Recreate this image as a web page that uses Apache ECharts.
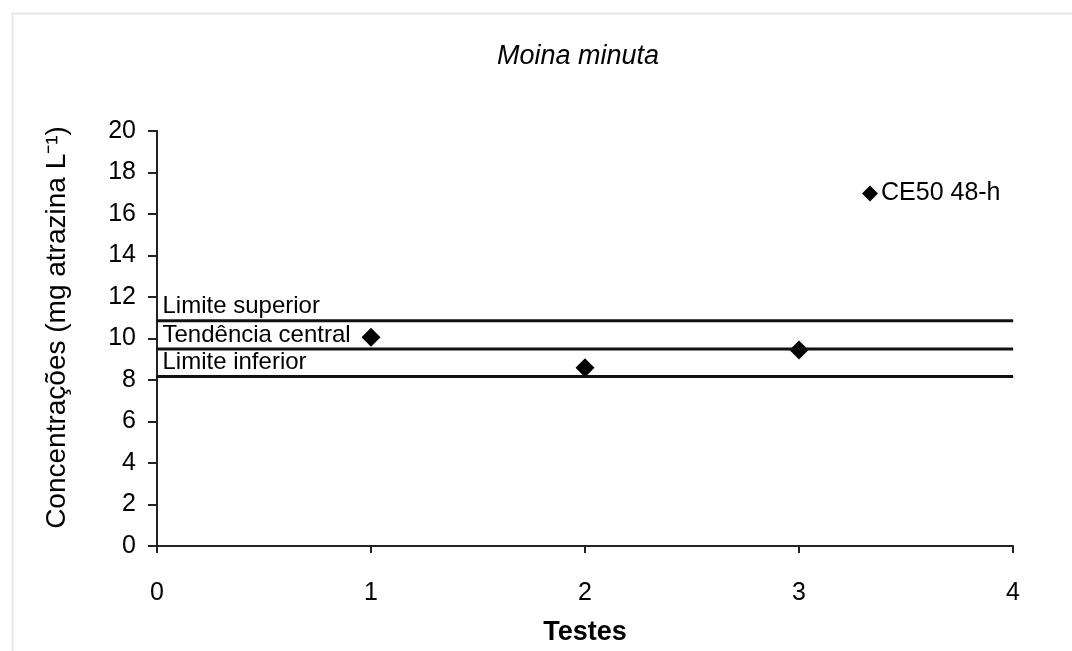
<!DOCTYPE html>
<html>
<head>
<meta charset="utf-8">
<script src="https://cdn.jsdelivr.net/npm/echarts@6/dist/echarts.min.js"></script>
<style>
html,body{margin:0;padding:0;background:#fff;}
#c{width:1072px;height:651px;}
</style>
</head>
<body>
<div id="c"></div>
<script>
// Data
var testes = [1, 2, 3];
var ce50 = [10.06, 8.59, 9.44];
var lineNames = ['Limite superior', 'Tendência central', 'Limite inferior'];
var lineValues = [10.86, 9.50, 8.17];
var lineX = [0, 4];
var yTicks = [0, 20, 2];
var xTicks = [0, 4, 1];

var FONT = '"Liberation Sans", Arial, sans-serif';
var chart = echarts.init(document.getElementById('c'));

var lineSeries = lineNames.map(function (nm, i) {
  return {
    name: nm,
    type: 'line',
    symbol: 'circle',
    symbolSize: 1,
    silent: true,
    lineStyle: { color: '#111', width: 3 },
    itemStyle: { color: '#111' },
    data: lineX.map(function (x, j) {
      var d = { value: [x, lineValues[i]] };
      if (j === 0) {
        d.label = {
          show: true, position: 'right', distance: 5, offset: [0, -14],
          formatter: nm, color: '#000', fontSize: 24, fontFamily: FONT
        };
      }
      return d;
    })
  };
});

chart.setOption({
  animation: false,
  backgroundColor: '#fff',
  title: {
    text: 'Moina minuta',
    left: 573, top: 38, textAlign: 'center',
    textStyle: { fontFamily: FONT, fontStyle: 'italic', fontWeight: 'normal', fontSize: 27, color: '#000' }
  },
  graphic: [{
    type: 'rect', left: 10, top: 11, shape: { width: 1100, height: 700 },
    style: { fill: 'none', stroke: '#e8e8e8', lineWidth: 2 }, silent: true
  }],
  legend: {
    data: [{ name: 'CE50 48-h', icon: 'diamond', itemStyle: { color: '#000', opacity: 1 } }],
    left: 857, top: 176, itemWidth: 16, itemHeight: 16, itemGap: 4,
    textStyle: { fontFamily: FONT, fontSize: 25, color: '#000', padding: [0, 0, 0, -2] }
  },
  grid: { left: 157, right: 59, top: 131, bottom: 96, containLabel: false },
  xAxis: {
    type: 'value', min: xTicks[0], max: xTicks[1], interval: xTicks[2],
    name: 'Testes', nameLocation: 'middle', nameGap: 73,
    nameTextStyle: { fontFamily: FONT, fontWeight: 'bold', fontSize: 27, color: '#000' },
    axisLine: { show: true, lineStyle: { color: '#222', width: 2 } },
    axisTick: { show: true, inside: false, length: 7, lineStyle: { color: '#222', width: 2 } },
    axisLabel: { fontFamily: FONT, fontSize: 25, color: '#000', margin: 35 },
    splitLine: { show: false }
  },
  yAxis: {
    type: 'value', min: yTicks[0], max: yTicks[1], interval: yTicks[2],
    name: 'Concentrações (mg atrazina L⁻¹)', nameLocation: 'middle', nameGap: 86, nameRotate: 90,
    nameTextStyle: { fontFamily: FONT, fontSize: 28, color: '#000', padding: [0, 0, 0, 22] },
    axisLine: { show: true, lineStyle: { color: '#222', width: 2 } },
    axisTick: { show: true, inside: false, length: 9, lineStyle: { color: '#222', width: 2 } },
    axisLabel: { fontFamily: FONT, fontSize: 25, color: '#000', margin: 21 },
    splitLine: { show: false }
  },
  series: lineSeries.concat([{
    name: 'CE50 48-h',
    type: 'scatter',
    symbol: 'diamond',
    symbolSize: 19,
    itemStyle: { color: '#000', opacity: 1 },
    data: testes.map(function (t, i) { return [t, ce50[i]]; })
  }])
});
</script>
</body>
</html>
